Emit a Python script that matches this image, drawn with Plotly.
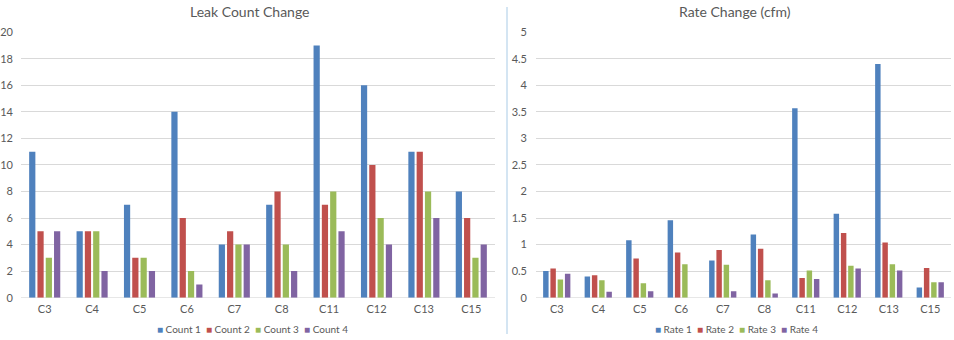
import plotly.graph_objects as go

categories = ["C3", "C4", "C5", "C6", "C7", "C8", "C11", "C12", "C13", "C15"]

count_names = ["Count 1", "Count 2", "Count 3", "Count 4"]
count_1 = [11, 5, 7, 14, 4, 7, 19, 16, 11, 8]
count_2 = [5, 5, 3, 6, 5, 8, 7, 10, 11, 6]
count_3 = [3, 5, 3, 2, 4, 4, 8, 6, 8, 3]
count_4 = [5, 2, 2, 1, 4, 2, 5, 4, 6, 4]

rate_names = ["Rate 1", "Rate 2", "Rate 3", "Rate 4"]
rate_1 = [0.50, 0.40, 1.08, 1.46, 0.70, 1.19, 3.57, 1.58, 4.40, 0.19]
rate_2 = [0.55, 0.42, 0.74, 0.85, 0.90, 0.92, 0.37, 1.22, 1.04, 0.56]
rate_3 = [0.34, 0.33, 0.27, 0.63, 0.62, 0.33, 0.51, 0.60, 0.63, 0.29]
rate_4 = [0.45, 0.11, 0.12, 0.00, 0.12, 0.08, 0.35, 0.55, 0.51, 0.29]

left_title = "Leak Count Change"
right_title = "Rate Change (cfm)"

colors = ["#4F81BD", "#C0504D", "#9BBB59", "#8064A2"]
TEXT = "#595959"
GRID = "#D9D9D9"
FONT = "Lato, 'Open Sans', sans-serif"

W, H = 954, 340


def px_x(x):
    return x / W


def px_y(y):
    # the page is photographed with the figure occupying rows 8..332
    return (332 - y) / 324


fig = go.Figure()

for name, vals, c in zip(count_names, [count_1, count_2, count_3, count_4], colors):
    fig.add_trace(go.Bar(x=categories, y=vals, name=name, marker=dict(color=c, line=dict(width=0)),
                         xaxis="x", yaxis="y", showlegend=False))

for name, vals, c in zip(rate_names, [rate_1, rate_2, rate_3, rate_4], colors):
    fig.add_trace(go.Bar(x=categories, y=vals, name=name, marker=dict(color=c, line=dict(width=0)),
                         xaxis="x2", yaxis="y2", showlegend=False))

ydom = [px_y(296), px_y(33)]
axis_common = dict(showline=False, zeroline=False, ticks="",
                   tickfont=dict(family=FONT, size=11, color=TEXT))

fig.update_layout(
    width=W, height=H,
    margin=dict(l=0, r=0, t=0, b=0),
    paper_bgcolor="white", plot_bgcolor="white",
    barmode="group", bargap=0.3, bargroupgap=0.25,
    font=dict(family=FONT, color=TEXT),
    xaxis=dict(domain=[px_x(21), px_x(495)], showgrid=False, ticklabelstandoff=3,
               type="category", **axis_common),
    yaxis=dict(domain=ydom, range=[0, 20], dtick=2, showgrid=True, gridcolor=GRID, gridwidth=1,
               ticklabelstandoff=7, **axis_common),
    xaxis2=dict(domain=[px_x(536), px_x(951)], showgrid=False, ticklabelstandoff=3,
                type="category", anchor="y2", **axis_common),
    yaxis2=dict(domain=ydom, range=[0, 5], dtick=0.5, showgrid=True, gridcolor=GRID, gridwidth=1,
                ticklabelstandoff=8, anchor="x2", **axis_common),
)

# baseline axis lines (Excel-style horizontal axis)
for xr, yr in [("x", "y"), ("x2", "y2")]:
    fig.add_shape(type="line", xref=f"{xr} domain", yref=yr, x0=0, x1=1, y0=0, y1=0,
                  line=dict(color=GRID, width=1), layer="below")

# divider between the two charts
fig.add_shape(type="line", xref="paper", yref="paper", x0=px_x(507), x1=px_x(507), y0=0, y1=1,
              line=dict(color="#A9CBE6", width=1))

# titles
fig.add_annotation(text=left_title, xref="paper", yref="paper", x=px_x(250), y=px_y(12),
                   xanchor="center", yanchor="middle", showarrow=False,
                   font=dict(family=FONT, size=14, color=TEXT))
fig.add_annotation(text=right_title, xref="paper", yref="paper", x=px_x(735), y=px_y(12),
                   xanchor="center", yanchor="middle", showarrow=False,
                   font=dict(family=FONT, size=14, color=TEXT))


def legend_text(names):
    parts = []
    for n, c in zip(names, colors):
        parts.append(f"<span style='color:{c}'>■</span> {n}")
    return "&nbsp;&nbsp;".join(parts)


fig.add_annotation(text=legend_text(count_names), xref="paper", yref="paper", x=px_x(252), y=px_y(327),
                   xanchor="center", yanchor="middle", showarrow=False,
                   font=dict(family=FONT, size=10, color=TEXT))
fig.add_annotation(text=legend_text(rate_names), xref="paper", yref="paper", x=px_x(736), y=px_y(327),
                   xanchor="center", yanchor="middle", showarrow=False,
                   font=dict(family=FONT, size=10, color=TEXT))

fig.write_html("out.html")
